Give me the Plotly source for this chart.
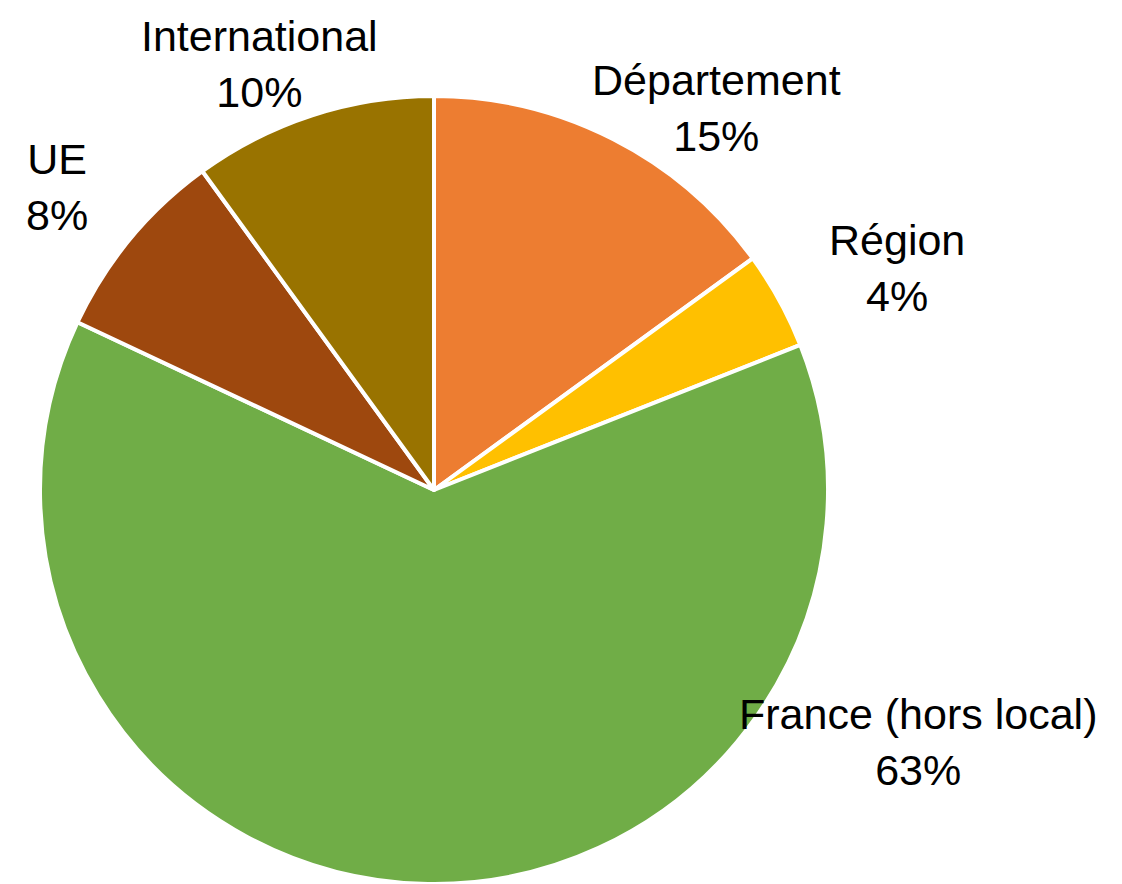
import plotly.graph_objects as go

labels = ["Département", "Région", "France (hors local)", "UE", "International"]
values = [15, 4, 63, 8, 10]
colors = ["#ED7D31", "#FFC000", "#70AD47", "#9E480E", "#997300"]

W, H = 1122, 884
# label block centres in pixels (layout only)
label_pos = [(716, 108), (897, 268), (918, 742), (57, 187), (259, 64)]

fig = go.Figure(go.Pie(
    labels=labels, values=values, sort=False, direction="clockwise", rotation=0,
    marker=dict(colors=colors, line=dict(color="white", width=4)),
    textinfo="none", hoverinfo="label+percent",
    domain=dict(x=[(434 - 395) / W, (434 + 395) / W], y=[0, (H - 96) / H]),
    showlegend=False,
))

for (px, py), lab, v in zip(label_pos, labels, values):
    fig.add_annotation(x=px / W, y=1 - py / H, xref="paper", yref="paper",
                       text=f"{lab}<br>{v}%", showarrow=False,
                       xanchor="center", yanchor="middle",
                       font=dict(family="Arial, Liberation Sans, sans-serif", size=43, color="#000000"))

fig.update_layout(width=W, height=H, margin=dict(l=0, r=0, t=0, b=0),
                  paper_bgcolor="white", plot_bgcolor="white")
fig.write_html("out.html")
